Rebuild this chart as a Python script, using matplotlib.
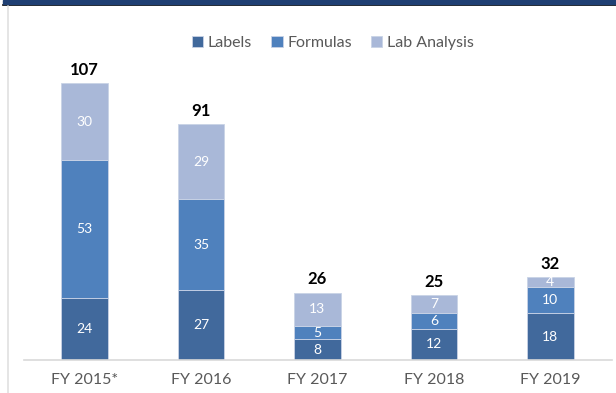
import matplotlib.pyplot as plt
from matplotlib.patches import Rectangle
from matplotlib.lines import Line2D

plt.rcParams['font.family'] = ['Lato', 'DejaVu Sans']

years = ['FY 2015*', 'FY 2016', 'FY 2017', 'FY 2018', 'FY 2019']
labels = [24, 27, 8, 12, 18]
formulas = [53, 35, 5, 6, 10]
lab_analysis = [30, 29, 13, 7, 4]

c_labels = '#41699C'
c_formulas = '#4F81BD'
c_lab = '#A9B8D8'

fig = plt.figure(figsize=(6.16, 3.93), dpi=100)
ax = fig.add_axes([24 / 616, 33 / 393, 588 / 616, 311 / 393])

x = range(len(years))
w = 0.40
b1 = ax.bar(x, labels, w, color=c_labels, edgecolor='#C9D3E6', linewidth=0.6, label='Labels')
b2 = ax.bar(x, formulas, w, bottom=labels, color=c_formulas, edgecolor='#C9D3E6', linewidth=0.6, label='Formulas')
bottom3 = [a + b for a, b in zip(labels, formulas)]
b3 = ax.bar(x, lab_analysis, w, bottom=bottom3, color=c_lab, edgecolor='#C9D3E6', linewidth=0.6, label='Lab Analysis')

for bars, vals, bots in [(b1, labels, [0] * 5), (b2, formulas, labels), (b3, lab_analysis, bottom3)]:
    for i, (v, b) in enumerate(zip(vals, bots)):
        ax.text(i, b + v / 2, str(v), ha='center', va='center', color='white', fontsize=10)

totals = [a + b for a, b in zip(bottom3, lab_analysis)]
for i, t in enumerate(totals):
    ax.text(i, t + 2.0, str(t), ha='center', va='bottom', color='black', fontsize=12, fontweight='bold')

ax.set_xlim(-0.52, 4.53)
ax.set_ylim(0, 120)
ax.set_xticks(list(x))
ax.set_xticklabels(years, fontsize=11.5, color='#595959')
ax.tick_params(axis='x', length=0, pad=9)
ax.set_yticks([])
for s in ['top', 'right', 'left']:
    ax.spines[s].set_visible(False)
ax.spines['bottom'].set_color('#D9D9D9')
ax.spines['bottom'].set_linewidth(1.2)

leg = fig.legend(loc='center', bbox_to_anchor=(333 / 616, 1 - 43 / 393), ncol=3, frameon=False,
                 fontsize=11.5, handlelength=0.7, handleheight=0.7, handletextpad=0.3, columnspacing=1.2)
for t in leg.get_texts():
    t.set_color('#595959')

# frame decorations
fig.patches.append(Rectangle((3 / 616, 1 - 4 / 393), 613 / 616, 4 / 393, transform=fig.transFigure,
                             color='#1F3F73', zorder=5))
fig.lines.append(Line2D([3 / 616, 1], [1 - 4.8 / 393, 1 - 4.8 / 393], transform=fig.transFigure,
                        color='black', linewidth=1.2))
fig.lines.append(Line2D([7.5 / 616, 7.5 / 616], [0, 1 - 6 / 393], transform=fig.transFigure,
                        color='#E0E0E0', linewidth=1.2))

fig.savefig('out.png', dpi=100)
